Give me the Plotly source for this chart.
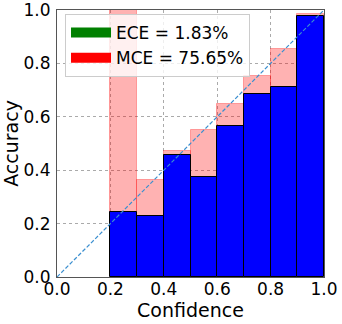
import plotly.graph_objects as go

# Reliability diagram data (10 bins, only non-empty bins shown)
bin_centers = [0.25, 0.35, 0.45, 0.55, 0.65, 0.75, 0.85, 0.95]
accuracy = [0.243, 0.228, 0.458, 0.373, 0.567, 0.686, 0.711, 0.978]
confidence = [0.9995, 0.363, 0.471, 0.550, 0.647, 0.752, 0.854, 0.986]
bin_width = 0.1
tick_vals = [0.0, 0.2, 0.4, 0.6, 0.8, 1.0]

ece_label = "ECE = 1.83%"
mce_label = "MCE = 75.65%"

gap = [c - a for c, a in zip(confidence, accuracy)]

fig = go.Figure()

# gap bars (accuracy -> confidence)
fig.add_trace(go.Bar(x=bin_centers, y=gap, base=accuracy, width=bin_width,
                     marker=dict(color="rgba(255,0,0,0.3)",
                                 line=dict(color="rgba(255,0,0,0.3)", width=1)),
                     showlegend=False, hoverinfo="skip"))

# accuracy bars
fig.add_trace(go.Bar(x=bin_centers, y=accuracy, width=bin_width,
                     marker=dict(color="#0000ff", line=dict(color="black", width=1)),
                     showlegend=False))

# perfect calibration
fig.add_trace(go.Scatter(x=[0, 1], y=[0, 1], mode="lines",
                         line=dict(color="#3a8fd0", width=1.2, dash="4px,2px"),
                         showlegend=False))

# legend patches
fig.add_trace(go.Scatter(x=[None], y=[None], mode="lines", name=ece_label,
                         line=dict(color="green", width=12)))
fig.add_trace(go.Scatter(x=[None], y=[None], mode="lines", name=mce_label,
                         line=dict(color="red", width=12)))

axis_common = dict(range=[0, 1], tickvals=tick_vals, tickformat=".1f", showline=True,
                   mirror=True, linecolor="#555", linewidth=1, ticks="",
                   showgrid=True, gridcolor="#aaa",
                   griddash="dot", gridwidth=1, zeroline=False, ticklabeloverflow="allow",
                   tickfont=dict(size=17, color="black"), automargin=False)

fig.update_layout(
    width=342, height=324,
    margin=dict(l=57, r=18, t=10, b=47),
    paper_bgcolor="white", plot_bgcolor="white",
    font=dict(family="DejaVu Sans", color="black"),
    barmode="overlay", bargap=0,
    xaxis=dict(title=dict(text="Confidence", font=dict(size=19), standoff=0),
               ticklabelstandoff=-3, **axis_common),
    yaxis=dict(title=dict(text="Accuracy", font=dict(size=19), standoff=6),
               ticklabelstandoff=2, **axis_common),
    legend=dict(x=0.03, y=0.985, xanchor="left", yanchor="top",
                bgcolor="rgba(255,255,255,0.8)", bordercolor="#ccc", borderwidth=1,
                font=dict(size=17), itemwidth=40),
)

fig.write_html("out.html", config={"displayModeBar": False},
               post_script="document.body.style.margin='0';")
